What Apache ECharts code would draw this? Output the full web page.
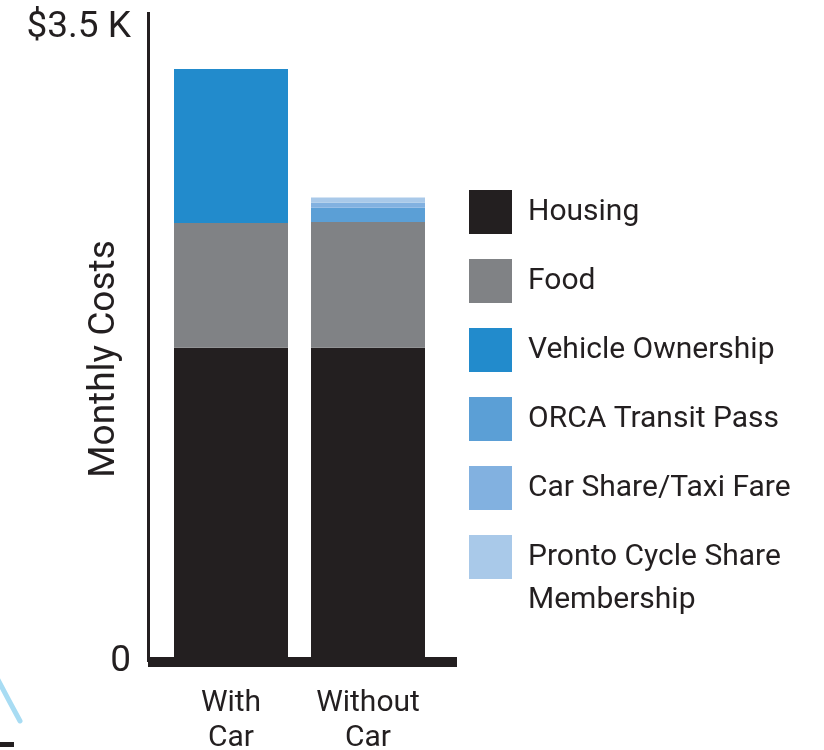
<!DOCTYPE html>
<html>
<head>
<meta charset="utf-8">
<script src="https://cdn.jsdelivr.net/npm/echarts@6/dist/echarts.min.js"></script>
<style>
  html, body { margin: 0; padding: 0; background: #fff; }
  #chart { width: 824px; height: 750px; }
</style>
</head>
<body>
<div id="chart"></div>
<script>
// monthly costs, with and without a car
var categories = ['With\nCar', 'Without\nCar'];
var housing = [1735, 1735];
var food = [688, 694];
var vehicle = [850, '-'];
var orca = ['-', 79];
var carShare = ['-', 28];
var pronto = ['-', 28];
var tickValues = [0, 3500];

var names = ['Housing', 'Food', 'Vehicle Ownership', 'ORCA Transit Pass',
    'Car Share/Taxi Fare', 'Pronto Cycle Share Membership'];
var colors = ['#231f20', '#808285', '#228bcc', '#5b9fd6', '#82b1e0', '#a9c9e9'];
var values = [housing, food, vehicle, orca, carShare, pronto];

var ink = '#231f20';
var font = 'Roboto';
var yMax = 3588;

var myChart = echarts.init(document.getElementById('chart'));

var series = names.map(function (n, i) {
    return {
        name: n,
        type: 'bar',
        stack: 'cost',
        xAxisIndex: 1,
        yAxisIndex: 1,
        barWidth: 114,
        itemStyle: { color: colors[i] },
        data: values[i]
    };
});

option = {
    animation: false,
    backgroundColor: '#fff',
    grid: [
        { left: 148, top: 12, width: 309, height: 650, outerBoundsMode: 'none' },
        { left: 162.5, top: 12, width: 274, height: 650, outerBoundsMode: 'none' }
    ],
    xAxis: [
        {
            gridIndex: 0, type: 'value', min: 0, max: 1,
            axisLine: { lineStyle: { color: ink, width: 10, cap: 'butt' } },
            axisTick: { show: false },
            axisLabel: { show: false },
            splitLine: { show: false }
        },
        {
            gridIndex: 1, type: 'category', data: categories,
            axisLine: { show: false },
            axisTick: { show: false },
            axisLabel: {
                margin: 24,
                color: ink,
                fontFamily: font,
                fontSize: 30,
                lineHeight: 35
            }
        }
    ],
    yAxis: [
        {
            gridIndex: 0, type: 'value', min: 0, max: yMax,
            name: 'Monthly Costs',
            nameLocation: 'middle',
            nameGap: 25,
            nameMoveOverlap: false,
            nameTextStyle: {
                color: ink, fontFamily: font, fontSize: 37,
                padding: [0, 44, 0, 0]
            },
            axisLine: { show: true, lineStyle: { color: ink, width: 3, cap: 'butt' } },
            axisTick: { show: false },
            splitLine: { show: false },
            axisLabel: {
                customValues: tickValues,
                margin: 17,
                color: ink,
                fontFamily: font,
                fontSize: 37,
                formatter: function (v) {
                    return v === 0 ? '0' : '$' + (v / 1000) + ' K';
                }
            }
        },
        {
            gridIndex: 1, type: 'value', min: 0, max: yMax, show: false
        }
    ],
    legend: {
        orient: 'vertical',
        left: 469,
        top: 190,
        padding: 0,
        itemWidth: 43,
        itemHeight: 44,
        itemGap: 25,
        icon: 'rect',
        selectedMode: false,
        data: names,
        formatter: function (n) {
            return n === 'Pronto Cycle Share Membership' ? 'Pronto Cycle Share' : n;
        },
        textStyle: {
            color: ink,
            fontFamily: font,
            fontSize: 30,
            padding: [0, 0, 0, 11]
        }
    },
    graphic: [
        {
            type: 'text', left: 528, top: 585,
            style: { text: 'Membership', fill: ink, font: '30px Roboto' }
        },
        {
            type: 'bezierCurve', silent: true,
            shape: { x1: -4, y1: 676, cpx1: 8, cpy1: 699, x2: 20, y2: 721 },
            style: { stroke: '#a8dcf3', lineWidth: 5, lineCap: 'round', fill: null }
        },
        {
            type: 'rect', silent: true,
            shape: { x: 0, y: 742, width: 14, height: 5 },
            style: { fill: ink }
        }
    ],
    series: series
};

myChart.setOption(option);
</script>
</body>
</html>
